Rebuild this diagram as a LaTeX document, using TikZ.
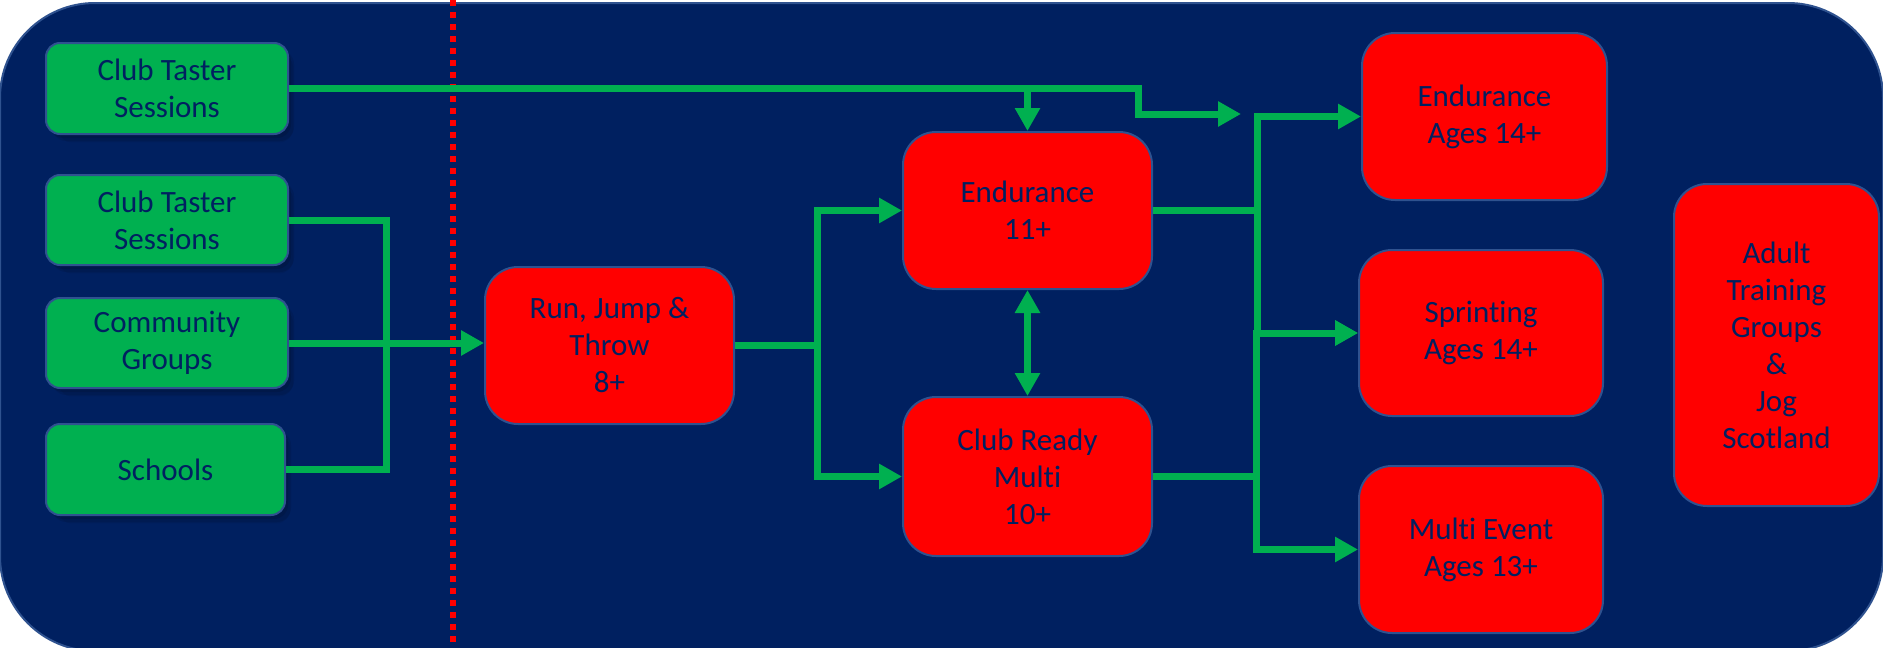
\documentclass[tikz,border=0pt]{standalone}
\usepackage{fontspec}
\setmainfont{Carlito}[Ligatures={NoCommon}]
\usetikzlibrary{arrows.meta,calc,shadows}
\definecolor{navy}{HTML}{002060}
\definecolor{edgeblue}{HTML}{2F528F}
\definecolor{grn}{HTML}{00B050}
\definecolor{rd}{HTML}{FF0000}
\begin{document}
\begin{tikzpicture}[x=1pt,y=-1pt,
  box/.style={draw=edgeblue, line width=2pt, text=navy, align=center, inner sep=0pt,
    font=\fontsize{31}{37}\selectfont},
  gbox/.style={box, fill=grn, rounded corners=14pt,
    drop shadow={shadow xshift=9pt, shadow yshift=-10pt, opacity=0.06, fill=black, shadow scale=0.97},
    drop shadow={shadow xshift=6pt, shadow yshift=-7pt, opacity=0.08, fill=black},
    drop shadow={shadow xshift=3pt, shadow yshift=-4pt, opacity=0.10, fill=black}},
  rbox/.style={box, fill=rd, rounded corners=33pt},
  link/.style={draw=grn, line width=7pt, line join=miter},
  arr/.style={link, -{Triangle[length=23pt,width=24pt]}},
  darr/.style={link, {Triangle[length=23pt,width=24pt]}-{Triangle[length=23pt,width=24pt]}},
  divider/.style={draw=rd, line width=5.5pt, dash pattern=on 5.5pt off 6.5pt},
]
\useasboundingbox (0,0) rectangle (1883,648);
% background panel
\path[fill=navy, draw=edgeblue, line width=2pt, rounded corners=95pt] (0,3) rectangle (1883,651);
% dotted divider
\coordinate (dtop) at (453,0);
\coordinate (dbot) at (453,648);
\draw[divider] (dtop) -- (dbot);

% green source nodes
\node[gbox, minimum width=242pt, minimum height=91pt] (g1) at (167,88.5) {Club Taster\\Sessions};
\node[gbox, minimum width=242pt, minimum height=90pt] (g2) at (167,220) {Club Taster\\Sessions};
\node[gbox, minimum width=242pt, minimum height=90pt] (g3) at (167,343) {Community\\Groups};
\node[gbox, minimum width=239pt, minimum height=91pt] (g4) at (165.5,469.5) {Schools};

% red nodes
\node[rbox, minimum width=249pt, minimum height=157pt] (r1) at (609.5,345.5) {Run, Jump \&\\Throw\\8+};
\node[rbox, minimum width=249pt, minimum height=157pt] (r2) at (1027.5,210.5) {Endurance\\11+};
\node[rbox, minimum width=249pt, minimum height=159pt] (r3) at (1027.5,476.5) {Club Ready\\Multi\\10+};
\node[rbox, minimum width=245pt, minimum height=167pt] (r4) at (1484.5,116.5) {Endurance\\Ages 14+};
\node[rbox, minimum width=244pt, minimum height=166pt] (r5) at (1481,333) {Sprinting\\Ages 14+};
\node[rbox, minimum width=244pt, minimum height=167pt] (r6) at (1481,549.5) {Multi Event\\Ages 13+};
\node[rbox, minimum width=205pt, minimum height=322pt] (r7) at (1776.5,345) {Adult\\Training\\Groups\\\&\\Jog\\Scotland};

% helper columns
\coordinate (colL) at (386,0);
\coordinate (colM) at (817,0);
\coordinate (colT) at (1138,0);
\coordinate (colA) at (1257,0);
\coordinate (colB) at (1256,0);
\coordinate (tasterend) at (1241,114);

% connectors
\draw[arr] (g1.east) -- (g1.east -| colT) -- (colT |- tasterend) -- (tasterend);
\draw[arr] (g1.east -| r2.north) -- (r2.north);
\draw[link] (g2.east) -| (colL |- g4.east) -- (g4.east);
\draw[arr] (g3.east) -- (r1.west |- g3.east);
\draw[arr] (r1.east) -- (r1.east -| colM) |- (r2.west);
\draw[arr] (r1.east -| colM) |- (r3.west);
\draw[darr] (r2.south) -- (r3.north);
\draw[arr] (r2.east) -- (r2.east -| colA) |- (r4.west);
\draw[arr] (r2.east -| colA) |- (r5.west);
\draw[arr] (r3.east) -- (r3.east -| colB) |- (r5.west);
\draw[arr] (r3.east -| colB) |- (r6.west);
\end{tikzpicture}
\end{document}
